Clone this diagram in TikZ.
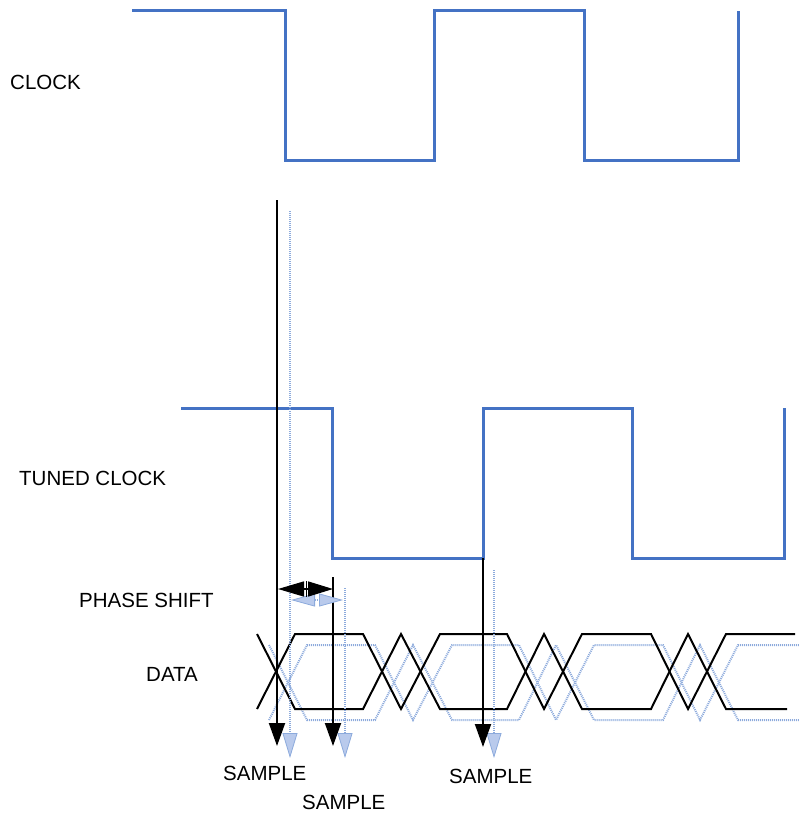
\documentclass[tikz,border=0pt]{standalone}
\usepackage{fontspec}
\setmainfont{Liberation Sans}
\usetikzlibrary{arrows.meta}
\definecolor{clk}{RGB}{68,114,196}
\definecolor{ghost}{RGB}{140,170,220}
\definecolor{ghostfill}{RGB}{185,202,236}
\tikzset{
  wave/.style={draw=clk,line width=3bp,line join=miter},
  dat/.style={draw=black,line width=2bp,line join=miter},
  ghostdat/.style={draw=ghost,line width=2bp,dash pattern=on 1bp off 1bp},
  samp/.style={draw=black,line width=2bp,-{Triangle[width=16bp,length=23bp]}},
  ghostsamp/.style={draw=ghost,line width=2bp,dash pattern=on 1bp off 1bp,
     -{Triangle[width=15bp,length=25bp,fill=ghostfill,color=ghost,line width=0.8bp]}},
  lbl/.style={anchor=west,inner sep=0pt,font=\fontsize{20.5bp}{24bp}\selectfont},
}
\begin{document}
\begin{tikzpicture}[x=1bp,y=-1bp]
\useasboundingbox (0,0) rectangle (799,814);
% clocks
\draw[wave] (132,11)--(285,11)--(285,160)--(434,160)--(434,11)--(584,11)--(584,160)--(738,160)--(738,11);
\draw[wave] (181,408)--(332,408)--(332,558)--(483,558)--(483,408)--(632,408)--(632,558)--(784,558)--(784,408);
% ghost data (shifted)
\begin{scope}[shift={(12,11)}]
\draw[ghostdat] (257,634)--(295,709)--(363,709)--(401,634)--(440,709)--(507,709)--(544,634)--(582,709)--(651,709)--(688,634)--(726,709)--(787,709);
\draw[ghostdat] (257,709)--(295,634)--(363,634)--(401,709)--(440,634)--(507,634)--(544,709)--(582,634)--(651,634)--(688,709)--(726,634)--(787,634);
\end{scope}
% data
\draw[dat] (257,634)--(295,709)--(363,709)--(401,634)--(440,709)--(507,709)--(544,634)--(582,709)--(651,709)--(688,634)--(726,709)--(787,709);
\draw[dat] (257,709)--(295,634)--(363,634)--(401,709)--(440,634)--(507,634)--(544,709)--(582,634)--(651,634)--(688,709)--(726,634)--(795,634);
% coordinates for sample arrows
\coordinate (g1s) at (290,211); \coordinate (g1e) at (290,758);
\coordinate (g2s) at (345,588); \coordinate (g2e) at (345,758);
\coordinate (g3s) at (494,570); \coordinate (g3e) at (494,758);
\coordinate (s1s) at (277,200); \coordinate (s1e) at (277,746);
\coordinate (s2s) at (333,577); \coordinate (s2e) at (333,746);
\coordinate (s3s) at (483,558); \coordinate (s3e) at (483,747);
\draw[ghostsamp] (g1s)--(g1e);
\draw[ghostsamp] (g2s)--(g2e);
\draw[ghostsamp] (g3s)--(g3e);
\draw[samp] (s1s)--(s1e);
\draw[samp] (s2s)--(s2e);
\draw[samp] (s3s)--(s3e);
% phase shift arrows
\coordinate (gpl) at (291,600); \coordinate (gpr) at (343,600);
\draw[draw=ghost,line width=1.5bp,dash pattern=on 1bp off 1bp,{Triangle[width=13bp,length=24bp,fill=ghostfill,color=ghost,line width=0.8bp]}-{Triangle[width=13bp,length=24bp,fill=ghostfill,color=ghost,line width=0.8bp]}] (gpl)--(gpr);
\coordinate (pl) at (278,589); \coordinate (pm) at (306,589); \coordinate (pr) at (333,589);
\draw[black,line width=1.5bp,-{Triangle[width=15bp,length=26bp]}] (pm)--(pl);
\draw[black,line width=1.5bp,-{Triangle[width=15bp,length=25bp]}] (pm)--(pr);
\coordinate (pt) at (306,581); \coordinate (pb) at (306,597);
\draw[black,line width=1bp] (pt)--(pb);
% labels
\node[lbl] (clock) at (10,82) {CLOCK};
\node[lbl] (tuned) at (19,478) {TUNED CLOCK};
\node[lbl] (phase) at (79,600) {PHASE SHIFT};
\node[lbl] (data) at (146,674) {DATA};
\node[lbl] (sa1) at (223,773) {SAMPLE};
\node[lbl] (sa2) at (302,802) {SAMPLE};
\node[lbl] (sa3) at (449,776) {SAMPLE};
\end{tikzpicture}
\end{document}
